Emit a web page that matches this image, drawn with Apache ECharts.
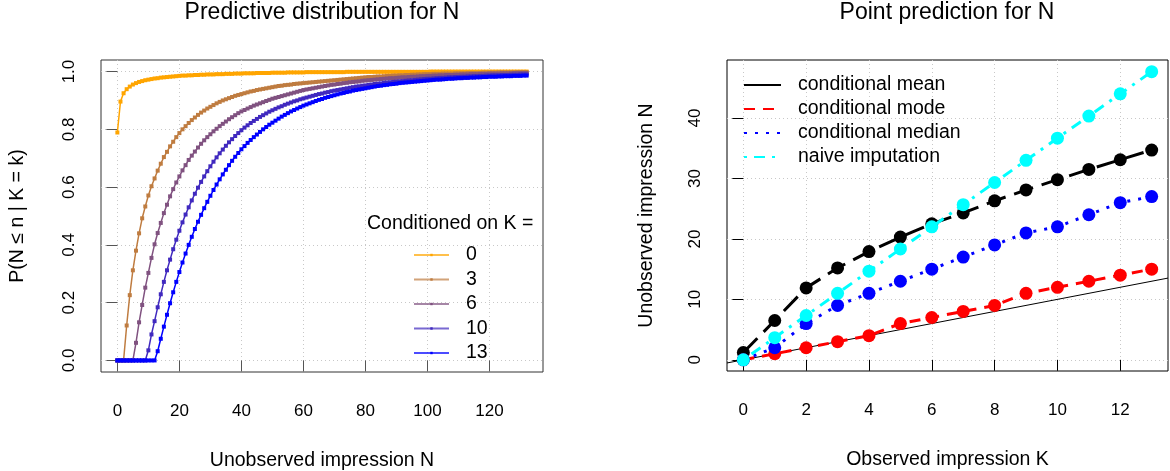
<!DOCTYPE html>
<html>
<head>
<meta charset="utf-8">
<script src="https://cdn.jsdelivr.net/npm/echarts@6/dist/echarts.min.js"></script>
<style>
html, body { margin: 0; padding: 0; background: #fff; }
#main { width: 1170px; height: 471px; }
</style>
</head>
<body>
<div id="main"></div>
<script>
// ---- left panel: predictive distribution P(N <= n | K = k), n = 0..132 ----
var nMax = 132;
var nValues = [];
for (var i = 0; i <= nMax; i++) nValues.push(i);

var kLevels = ['0', '3', '6', '10', '13'];

var cdfK0 = [
    0.789, 0.896, 0.925, 0.939, 0.948, 0.955, 0.960, 0.964, 0.967, 0.970, 0.972, 0.974, 0.976, 0.977, 0.979, 0.980, 0.981, 0.982, 0.983, 0.984, 0.985,
    0.986, 0.986, 0.987, 0.987, 0.988, 0.988, 0.989, 0.989, 0.990, 0.990, 0.990, 0.991, 0.991, 0.991, 0.992, 0.992, 0.992, 0.993, 0.993, 0.993,
    0.994, 0.994, 0.994, 0.994, 0.995, 0.995, 0.995, 0.995, 0.995, 0.996, 0.996, 0.996, 0.996, 0.996, 0.997, 0.997, 0.997, 0.997, 0.997, 0.997,
    0.998, 0.998, 0.998, 0.998, 0.998, 0.998, 0.998, 0.998, 0.998, 0.998, 0.998, 0.998, 0.998, 0.999, 0.999, 0.999, 0.999, 0.999, 0.999, 0.999,
    0.999, 0.999, 0.999, 0.999, 0.999, 0.999, 0.999, 0.999, 0.999, 0.999, 0.999, 0.999, 0.999, 0.999, 0.999, 0.999, 0.999, 0.999, 0.999, 0.999,
    1.000, 1.000, 1.000, 1.000, 1.000, 1.000, 1.000, 1.000, 1.000, 1.000, 1.000, 1.000, 1.000, 1.000, 1.000, 1.000,
    1.000, 1.000, 1.000, 1.000, 1.000, 1.000, 1.000, 1.000, 1.000, 1.000, 1.000, 1.000, 1.000, 1.000, 1.000, 1.000
];
var cdfK3 = [
    0, 0, 0, 0.121, 0.226, 0.312, 0.380, 0.440, 0.492, 0.533, 0.571, 0.603, 0.630, 0.657, 0.681, 0.704, 0.722, 0.741, 0.757, 0.773, 0.787,
    0.800, 0.811, 0.822, 0.832, 0.841, 0.850, 0.858, 0.865, 0.872, 0.878, 0.884, 0.890, 0.895, 0.900, 0.904, 0.908, 0.912, 0.916, 0.919, 0.922,
    0.925, 0.928, 0.931, 0.933, 0.936, 0.938, 0.940, 0.942, 0.944, 0.946, 0.948, 0.950, 0.951, 0.953, 0.954, 0.955, 0.957, 0.958, 0.959, 0.960,
    0.961, 0.962, 0.963, 0.964, 0.965, 0.966, 0.967, 0.968, 0.969, 0.970, 0.971, 0.972, 0.973, 0.974, 0.975, 0.976, 0.977, 0.978, 0.979, 0.980,
    0.981, 0.981, 0.982, 0.983, 0.983, 0.984, 0.985, 0.985, 0.986, 0.986, 0.987, 0.987, 0.988, 0.988, 0.989, 0.989, 0.990, 0.990, 0.991, 0.991,
    0.991, 0.992, 0.992, 0.992, 0.993, 0.993, 0.993, 0.993, 0.994, 0.994, 0.994, 0.994, 0.995, 0.995, 0.995, 0.995,
    0.995, 0.996, 0.996, 0.996, 0.996, 0.996, 0.997, 0.997, 0.997, 0.997, 0.997, 0.997, 0.998, 0.998, 0.998, 0.998
];
var cdfK6 = [
    0, 0, 0, 0, 0, 0, 0.061, 0.132, 0.192, 0.252, 0.303, 0.355, 0.402, 0.441, 0.476, 0.510, 0.539, 0.568, 0.593, 0.616, 0.637,
    0.658, 0.676, 0.694, 0.709, 0.723, 0.737, 0.750, 0.762, 0.773, 0.783, 0.793, 0.802, 0.811, 0.819, 0.827, 0.835, 0.842, 0.849, 0.856, 0.862,
    0.867, 0.872, 0.877, 0.882, 0.886, 0.890, 0.894, 0.898, 0.902, 0.906, 0.909, 0.912, 0.915, 0.918, 0.921, 0.924, 0.927, 0.930, 0.933, 0.936,
    0.938, 0.940, 0.942, 0.944, 0.946, 0.948, 0.950, 0.952, 0.954, 0.955, 0.957, 0.958, 0.960, 0.961, 0.963, 0.964, 0.965, 0.966, 0.968, 0.969,
    0.970, 0.971, 0.972, 0.973, 0.974, 0.975, 0.976, 0.977, 0.977, 0.978, 0.979, 0.980, 0.980, 0.981, 0.982, 0.982, 0.983, 0.984, 0.984, 0.985,
    0.985, 0.986, 0.986, 0.987, 0.987, 0.988, 0.988, 0.988, 0.989, 0.989, 0.990, 0.990, 0.990, 0.991, 0.991, 0.991,
    0.992, 0.992, 0.992, 0.993, 0.993, 0.993, 0.993, 0.994, 0.994, 0.994, 0.994, 0.995, 0.995, 0.995, 0.995, 0.995
];
var cdfK10 = [
    0, 0, 0, 0, 0, 0, 0, 0, 0, 0, 0.035, 0.090, 0.136, 0.184, 0.229, 0.272, 0.312, 0.349, 0.385, 0.418, 0.449,
    0.478, 0.505, 0.530, 0.554, 0.577, 0.598, 0.618, 0.637, 0.655, 0.672, 0.688, 0.703, 0.717, 0.730, 0.743, 0.755, 0.766, 0.777, 0.787, 0.797,
    0.806, 0.814, 0.822, 0.829, 0.836, 0.843, 0.849, 0.855, 0.861, 0.866, 0.871, 0.876, 0.880, 0.885, 0.889, 0.893, 0.897, 0.900, 0.904, 0.907,
    0.910, 0.913, 0.916, 0.919, 0.922, 0.924, 0.927, 0.929, 0.932, 0.934, 0.936, 0.938, 0.940, 0.942, 0.944, 0.946, 0.948, 0.949, 0.951, 0.952,
    0.954, 0.955, 0.957, 0.958, 0.959, 0.961, 0.962, 0.963, 0.964, 0.965, 0.966, 0.967, 0.968, 0.969, 0.970, 0.971, 0.972, 0.973, 0.974, 0.975,
    0.975, 0.976, 0.977, 0.978, 0.978, 0.979, 0.980, 0.980, 0.981, 0.981, 0.982, 0.982, 0.983, 0.983, 0.984, 0.984,
    0.985, 0.985, 0.986, 0.986, 0.987, 0.987, 0.987, 0.988, 0.988, 0.988, 0.989, 0.989, 0.989, 0.990, 0.990, 0.990
];
var cdfK13 = [
    0, 0, 0, 0, 0, 0, 0, 0, 0, 0, 0, 0, 0, 0.032, 0.075, 0.117, 0.158, 0.198, 0.236, 0.272, 0.306,
    0.339, 0.370, 0.400, 0.428, 0.455, 0.480, 0.504, 0.527, 0.549, 0.570, 0.590, 0.609, 0.627, 0.644, 0.660, 0.676, 0.691, 0.705, 0.718, 0.731,
    0.742, 0.753, 0.763, 0.773, 0.782, 0.791, 0.800, 0.808, 0.816, 0.823, 0.830, 0.837, 0.844, 0.850, 0.856, 0.862, 0.867, 0.872, 0.877, 0.882,
    0.886, 0.890, 0.894, 0.898, 0.902, 0.905, 0.909, 0.912, 0.915, 0.918, 0.921, 0.924, 0.926, 0.929, 0.931, 0.934, 0.936, 0.938, 0.940, 0.942,
    0.944, 0.946, 0.948, 0.950, 0.951, 0.953, 0.954, 0.956, 0.957, 0.958, 0.960, 0.961, 0.962, 0.963, 0.964, 0.965, 0.966, 0.967, 0.968, 0.969,
    0.970, 0.971, 0.972, 0.972, 0.973, 0.974, 0.975, 0.975, 0.976, 0.977, 0.977, 0.978, 0.978, 0.979, 0.979, 0.980,
    0.980, 0.981, 0.981, 0.982, 0.982, 0.982, 0.983, 0.983, 0.984, 0.984, 0.984, 0.985, 0.985, 0.985, 0.986, 0.986
];
var cdfColors = ['#FFA500', '#BF7C40', '#805280', '#4029BF', '#0000FF'];

// ---- right panel: point predictions for N given K ----
var kValues = [0, 1, 2, 3, 4, 5, 6, 7, 8, 9, 10, 11, 12, 13];
var condMean = [1.2, 6.5, 11.9, 15.2, 17.9, 20.3, 22.5, 24.3, 26.3, 28.1, 29.8, 31.5, 33.1, 34.7];
var condMode = [0, 1, 2, 3, 4, 6, 7, 8, 9, 11, 12, 13, 14, 15];
var condMedian = [0, 2, 6, 9, 11, 13, 15, 17, 19, 21, 22, 24, 26, 27];
var naiveImp = [0, 3.67, 7.33, 11, 14.67, 18.33, 22, 25.67, 29.33, 33, 36.67, 40.33, 44, 47.67];

// tick labels
var leftXTicks = [0, 20, 40, 60, 80, 100, 120];
var leftYTicks = [0, 0.2, 0.4, 0.6, 0.8, 1.0];
var rightXTicks = [0, 2, 4, 6, 8, 10, 12];
var rightYTicks = [0, 10, 20, 30, 40];

var leftX = [-5.28, 137.28], leftY = [-0.04, 1.04];
var rightX = [-0.52, 13.52], rightY = [-1.85, 49.6];

function pairs(xs, ys) {
    return xs.map(function (x, i) { return [x, ys[i]]; });
}

var fontFam = '"Liberation Sans", Arial, Helvetica, sans-serif';
var gridLine = { show: true, lineStyle: { type: [1, 3], color: '#c8c8c8', width: 1 } };

function valueAxis(gi, range, ticks, fmt, name, gap, tickColor, isY, labelMargin) {
    return {
        type: 'value', gridIndex: gi, min: range[0], max: range[1],
        axisLine: { show: false },
        axisTick: { show: true, length: 11, customValues: ticks, lineStyle: { color: tickColor, width: 1 } },
        axisLabel: {
            customValues: ticks, color: '#000', fontSize: 17, fontFamily: fontFam,
            margin: labelMargin, rotate: isY ? 90 : 0,
            formatter: fmt
        },
        splitLine: gridLine,
        name: name, nameLocation: 'middle', nameGap: gap,
        nameTextStyle: { color: '#000', fontSize: 19.5, fontFamily: fontFam }
    };
}

var cdfSets = [cdfK0, cdfK3, cdfK6, cdfK10, cdfK13];
var leftSeries = cdfSets.map(function (d, i) {
    return {
        name: kLevels[i], type: 'line', xAxisIndex: 0, yAxisIndex: 0,
        data: pairs(nValues, d),
        symbol: 'rect', symbolSize: 4, showSymbol: true,
        color: cdfColors[i],
        lineStyle: { width: 1.5, color: cdfColors[i] },
        itemStyle: { color: cdfColors[i] },
        animation: false, z: 2 + i
    };
});

function pointSeries(name, ys, color, dash, z) {
    return {
        name: name, type: 'line', xAxisIndex: 1, yAxisIndex: 1,
        data: pairs(kValues, ys),
        symbol: 'circle', symbolSize: 13, showSymbol: true,
        color: color,
        lineStyle: { width: 3, color: color, type: dash },
        itemStyle: { color: color },
        animation: false, z: z
    };
}

var rightSeries = [
    pointSeries('conditional mean', condMean, '#000000', [20, 9], 3),
    pointSeries('conditional mode', condMode, '#FF0000', [11, 8], 4),
    pointSeries('conditional median', condMedian, '#0000FF', [3, 8], 5),
    pointSeries('naive imputation', naiveImp, '#00FFFF', [3, 7, 11, 7], 6),
    {
        name: 'identity', type: 'line', xAxisIndex: 1, yAxisIndex: 1,
        data: [[rightX[0], rightX[0]], [rightX[1], rightX[1]]],
        symbol: 'none', lineStyle: { width: 1, color: '#000' },
        animation: false, silent: true, z: 2
    }
];

var chart = echarts.init(document.getElementById('main'));

chart.setOption({
    backgroundColor: '#ffffff',
    animation: false,
    textStyle: { fontFamily: fontFam },
    title: [
        { text: 'Predictive distribution for N', left: 322, textAlign: 'center', top: 1, padding: 0,
          textStyle: { fontSize: 23, fontWeight: 'normal', color: '#000', fontFamily: fontFam } },
        { text: 'Point prediction for N', left: 947, textAlign: 'center', top: 1, padding: 0,
          textStyle: { fontSize: 23, fontWeight: 'normal', color: '#000', fontFamily: fontFam } },
        { text: 'Conditioned on K =', left: 367, top: 214, padding: 0,
          textStyle: { fontSize: 19.5, fontWeight: 'normal', color: '#000', fontFamily: fontFam } }
    ],
    legend: [
        {
            data: kLevels, orient: 'vertical', left: 413, top: 245, padding: 0,
            itemWidth: 35, itemHeight: 3, itemGap: 4.5, selectedMode: false,
            lineStyle: { width: 2, opacity: 0.7 },
            textStyle: { fontSize: 19.5, color: '#000', fontFamily: fontFam, padding: [0, 0, 0, 12] }
        },
        {
            data: [
                { name: 'conditional mean', lineStyle: { type: 'solid' } },
                { name: 'conditional mode' },
                { name: 'conditional median' },
                { name: 'naive imputation' }
            ],
            orient: 'vertical', left: 743, top: 75, padding: 0,
            itemWidth: 37, itemHeight: 14, itemGap: 4, selectedMode: false,
            itemStyle: { opacity: 0 },
            textStyle: { fontSize: 19.5, color: '#000', fontFamily: fontFam, padding: [0, 0, 0, 12] }
        }
    ],
    grid: [
        { left: 101, top: 60, width: 442, height: 312, show: true, borderColor: '#333', borderWidth: 1,
          backgroundColor: 'transparent', outerBoundsMode: 'none', containLabel: false },
        { left: 727, top: 60, width: 441, height: 311, show: true, borderColor: '#000', borderWidth: 1,
          backgroundColor: 'transparent', outerBoundsMode: 'none', containLabel: false }
    ],
    xAxis: [
        valueAxis(0, leftX, leftXTicks, function (v) { return String(v); }, 'Unobserved impression N', 79, '#555', false, 31),
        valueAxis(1, rightX, rightXTicks, function (v) { return String(v); }, 'Observed impression K', 79, '#000', false, 31)
    ],
    yAxis: [
        valueAxis(0, leftY, leftYTicks, function (v) { return v.toFixed(1); }, 'P(N \u2264 n | K = k)', 73, '#555', true, 23),
        valueAxis(1, rightY, rightYTicks, function (v) { return String(v); }, 'Unobserved impression N', 70, '#000', true, 23)
    ],
    series: leftSeries.concat(rightSeries)
});
</script>
</body>
</html>
